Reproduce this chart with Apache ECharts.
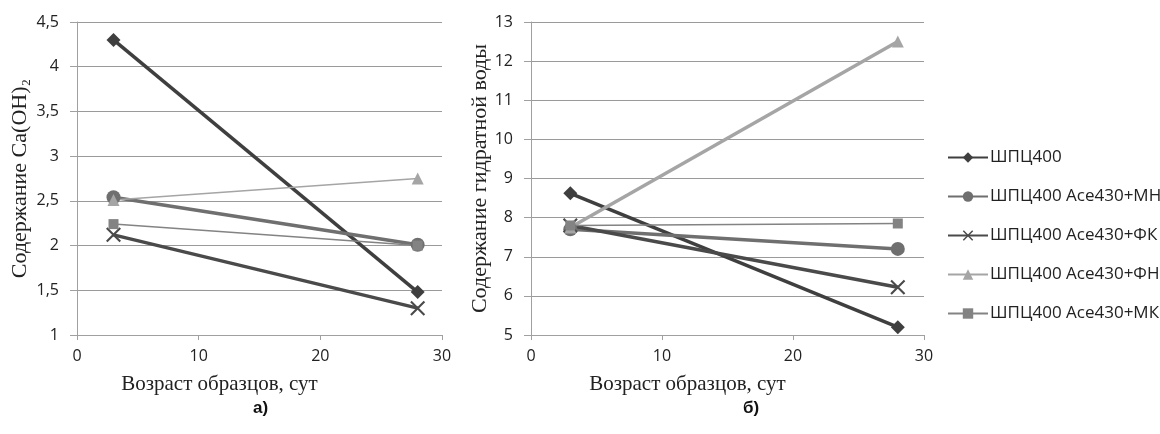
<!DOCTYPE html>
<html>
<head>
<meta charset="utf-8">
<script src="https://cdn.jsdelivr.net/npm/echarts@6/dist/echarts.min.js"></script>
<style>
  html, body { margin: 0; padding: 0; background: #fff; }
  #chart { width: 1160px; height: 434px; }
</style>
</head>
<body>
<div id="chart"></div>
<script>
var chartDom = document.getElementById('chart');
var myChart = echarts.init(chartDom);

// возраст образцов, сут
var ages = [3, 28];
var seriesNames = ['ШПЦ400', 'ШПЦ400 Ace430+МН', 'ШПЦ400 Ace430+ФК', 'ШПЦ400 Ace430+ФН', 'ШПЦ400 Ace430+МК'];

// а) содержание Ca(OH)2
var caoh_shpc = [4.3, 1.48];
var caoh_mn = [2.54, 2.01];
var caoh_fk = [2.12, 1.3];
var caoh_fn = [2.51, 2.75];
var caoh_mk = [2.24, 2.0];

// б) содержание гидратной воды
var water_shpc = [8.62, 5.2];
var water_mn = [7.7, 7.2];
var water_fk = [7.8, 6.22];
var water_fn = [7.75, 12.5];
var water_mk = [7.8, 7.85];

var crossPath = 'path://M0,1L1,0L5,4L9,0L10,1L6,5L10,9L9,10L5,6L1,10L0,9L4,5Z';

var styles = [
  { color: '#3f3f3f', width: 3.5, symbol: 'diamond', size: 14 },
  { color: '#6f6f6f', width: 3.5, symbol: 'circle', size: 14 },
  { color: '#4a4a4a', width: 3.5, symbol: crossPath, size: 15 },
  { color: '#a5a5a5', width: 3.5, symbol: 'triangle', size: 12 },
  { color: '#838383', width: 1.5, symbol: 'rect', size: 10 }
];
var leftWidths = [3.5, 3.5, 3.5, 1.5, 1.5];

function pairs(vals) {
  return vals.map(function (v, i) { return [ages[i], v]; });
}

function makeSeries(idx, vals, grid, lw) {
  var s = styles[idx];
  return {
    name: seriesNames[idx],
    type: 'line',
    xAxisIndex: grid,
    yAxisIndex: grid,
    data: pairs(vals),
    symbol: s.symbol,
    symbolSize: s.size,
    lineStyle: { color: s.color, width: lw },
    itemStyle: { color: s.color },
    emphasis: { disabled: true }
  };
}

var comma = function (v) { return String(v).replace('.', ','); };

var xAxisBase = {
  type: 'value',
  min: 0, max: 30, interval: 10,
  name: 'Возраст образцов, сут',
  nameLocation: 'middle',
  nameGap: 39,
  nameTextStyle: { fontFamily: 'Liberation Serif', fontSize: 21, color: '#222', padding: [0, 80, 0, 0] },
  axisLine: { lineStyle: { color: '#a0a0a0' } },
  axisTick: { show: true, length: 5, lineStyle: { color: '#a0a0a0' } },
  axisLabel: { fontFamily: 'Open Sans', fontSize: 16, color: '#222', margin: 13 },
  splitLine: { show: false }
};

function yAxis(min, max, interval, name, gap) {
  return {
    type: 'value',
    min: min, max: max, interval: interval,
    name: name,
    nameLocation: 'middle',
    nameGap: gap,
    nameTextStyle: { fontFamily: 'Liberation Serif', fontSize: 22, color: '#222' },
    axisLine: { show: true, lineStyle: { color: '#a0a0a0' } },
    axisTick: { show: true, length: 7, lineStyle: { color: '#a0a0a0' } },
    axisLabel: { fontFamily: 'Open Sans', fontSize: 16, color: '#222', margin: 18, formatter: comma },
    splitLine: { show: true, lineStyle: { color: '#9a9a9a', width: 1 } }
  };
}

var option = {
  backgroundColor: '#fff',
  animation: false,
  title: [
    { text: 'а)', left: 248, top: 395, textStyle: { fontFamily: 'Liberation Sans', fontSize: 17, fontWeight: 'bold', color: '#111' } },
    { text: 'б)', left: 738, top: 395, textStyle: { fontFamily: 'Liberation Sans', fontSize: 17, fontWeight: 'bold', color: '#111' } }
  ],
  grid: [
    { left: 77, top: 22, width: 365, height: 313 },
    { left: 531, top: 22, width: 393, height: 313 }
  ],
  xAxis: [
    Object.assign({ gridIndex: 0 }, xAxisBase),
    Object.assign({ gridIndex: 1 }, xAxisBase)
  ],
  yAxis: [
    Object.assign({ gridIndex: 0 }, yAxis(1, 4.5, 0.5, 'Содержание Ca(OH)₂', 46)),
    Object.assign({ gridIndex: 1 }, yAxis(5, 13, 1, 'Содержание гидратной воды', 39))
  ],
  legend: {
    orient: 'vertical',
    left: 942,
    top: 144,
    itemGap: 22,
    itemWidth: 40,
    itemHeight: 13,
    selectedMode: false,
    textStyle: { fontFamily: 'Open Sans', fontSize: 17, color: '#222', padding: [0, 0, 0, -3] },
    data: seriesNames
  },
  series: [
    makeSeries(0, caoh_shpc, 0, leftWidths[0]),
    makeSeries(1, caoh_mn, 0, leftWidths[1]),
    makeSeries(2, caoh_fk, 0, leftWidths[2]),
    makeSeries(3, caoh_fn, 0, leftWidths[3]),
    makeSeries(4, caoh_mk, 0, leftWidths[4]),
    makeSeries(0, water_shpc, 1, styles[0].width),
    makeSeries(1, water_mn, 1, styles[1].width),
    makeSeries(2, water_fk, 1, styles[2].width),
    makeSeries(3, water_fn, 1, styles[3].width),
    makeSeries(4, water_mk, 1, styles[4].width)
  ]
};

myChart.setOption(option);

window.onresize = () => {
  myChart.resize();
}
</script>
</body>
</html>
